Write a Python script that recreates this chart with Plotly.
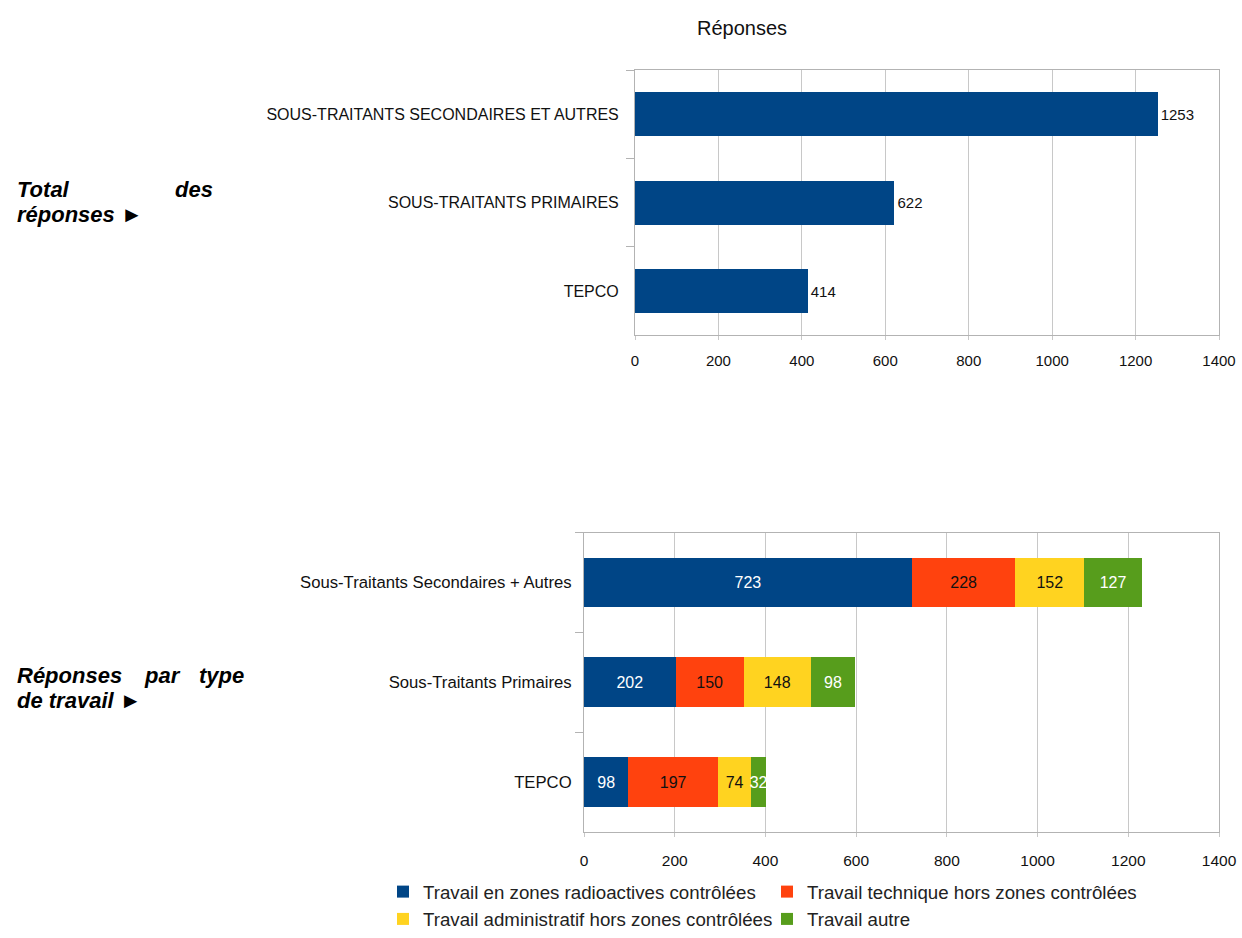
import plotly.graph_objects as go

W, H = 1242, 938
# the captured picture comes out slightly squeezed vertically; compensate placements
Y_STRETCH = 1 / 0.984

# ---- data ----
total_categories = ["SOUS-TRAITANTS SECONDAIRES ET AUTRES", "SOUS-TRAITANTS PRIMAIRES", "TEPCO"]
total_values = [1253, 622, 414]

type_categories = ["Sous-Traitants Secondaires + Autres", "Sous-Traitants Primaires", "TEPCO"]
series_names = [
    "Travail en zones radioactives contrôlées",
    "Travail technique hors zones contrôlées",
    "Travail administratif hors zones contrôlées",
    "Travail autre",
]
radio_values = [723, 202, 98]
technique_values = [228, 150, 197]
admin_values = [152, 148, 74]
autre_values = [127, 98, 32]

x_ticks = [0, 200, 400, 600, 800, 1000, 1200, 1400]

# ---- styles ----
BLUE = "#004586"
ORANGE = "#ff420e"
YELLOW = "#ffd320"
GREEN = "#579d1c"
FONT = "Liberation Sans, Arial, sans-serif"
GRID = "#c8c8c8"
AXIS = "#b3b3b3"


def px(x):
    return x / W


def py(y):
    return max(0.0, 1 - (y * Y_STRETCH) / H)


fig = go.Figure()

fig.add_trace(go.Bar(
    y=total_categories, x=total_values, orientation="h",
    marker=dict(color=BLUE, line=dict(width=0)),
    text=[str(v) for v in total_values], textposition="outside",
    textfont=dict(size=15, color="#111", family=FONT),
    cliponaxis=False, showlegend=False,
    xaxis="x", yaxis="y",
))

series = [
    (series_names[0], radio_values, BLUE, "white", "legend"),
    (series_names[1], technique_values, ORANGE, "#111", "legend2"),
    (series_names[2], admin_values, YELLOW, "#111", "legend"),
    (series_names[3], autre_values, GREEN, "white", "legend2"),
]
for name, vals, col, tcol, leg in series:
    fig.add_trace(go.Bar(
        y=type_categories, x=vals, orientation="h", name=name,
        marker=dict(color=col, line=dict(width=0)),
        text=[str(v) for v in vals], textposition="inside", textangle=0,
        insidetextanchor="middle", constraintext="none",
        textfont=dict(size=16, color=tcol, family=FONT),
        cliponaxis=False,
        xaxis="x2", yaxis="y2", legend=leg,
    ))

axis_common = dict(
    showline=True, linecolor=AXIS, linewidth=1, mirror=True,
    automargin=False, zeroline=False,
)

fig.update_layout(
    width=W, height=H,
    margin=dict(l=0, r=0, t=0, b=0),
    paper_bgcolor="white", plot_bgcolor="white",
    barmode="stack", bargap=0.5,
    font=dict(family=FONT, color="#111"),
    title=dict(text="Réponses", x=px(742), y=py(28), xref="paper", yref="paper",
               xanchor="center", yanchor="middle",
               font=dict(size=20, family=FONT, color="#111")),
    xaxis=dict(domain=[px(635), px(1219)], range=[0, 1400], tickvals=x_ticks,
               showgrid=True, gridcolor=GRID, ticks="outside", ticklen=4, tickcolor=GRID,
               tickfont=dict(size=15), ticklabelstandoff=8, anchor="y", **axis_common),
    yaxis=dict(domain=[py(335), py(70)], autorange="reversed", anchor="x",
               ticks="outside", tickson="boundaries", ticklen=8, tickcolor=AXIS,
               tickfont=dict(size=16), ticklabelstandoff=12, showgrid=False, **axis_common),
    xaxis2=dict(domain=[px(584), px(1219)], range=[0, 1400], tickvals=x_ticks,
                showgrid=True, gridcolor=GRID, ticks="outside", ticklen=4, tickcolor=GRID,
                tickfont=dict(size=15.5), ticklabelstandoff=10, anchor="y2", **axis_common),
    yaxis2=dict(domain=[py(831), py(532)], autorange="reversed", anchor="x2",
                ticks="outside", tickson="boundaries", ticklen=8, tickcolor=AXIS,
                tickfont=dict(size=16.7), ticklabelstandoff=8, showgrid=False, **axis_common),
    legend=dict(x=px(383), y=py(872), xanchor="left", yanchor="top", orientation="v",
                font=dict(size=18.7, family=FONT, color="#222"), bgcolor="rgba(0,0,0,0)",
                traceorder="normal"),
    legend2=dict(x=px(767), y=py(872), xanchor="left", yanchor="top", orientation="v",
                 font=dict(size=18.7, family=FONT, color="#222"), bgcolor="rgba(0,0,0,0)",
                 traceorder="normal"),
)

side_font = dict(size=22, family=FONT, color="black")
side_texts = [
    ("<b><i>Total</i></b>", 15, 189, "left"),
    ("<b><i>des</i></b>", 215, 189, "right"),
    ("<b><i>réponses ►</i></b>", 15, 214, "left"),
    ("<b><i>Réponses</i></b>", 15, 675, "left"),
    ("<b><i>par</i></b>", 162, 675, "center"),
    ("<b><i>type</i></b>", 246, 675, "right"),
    ("<b><i>de travail ►</i></b>", 15, 700, "left"),
]
for txt, x, y, anc in side_texts:
    fig.add_annotation(text=txt, x=px(x), y=py(y), xref="paper", yref="paper",
                       xanchor=anc, yanchor="middle", showarrow=False, font=side_font)

page_css = (
    "var gd=document.querySelector('.plotly-graph-div');"
    "var st='margin:0;padding:0;overflow:hidden;width:1242px;height:938px;';"
    "document.documentElement.style.cssText=st;"
    "document.body.style.cssText=st;"
    "if(gd&&gd.parentElement){gd.parentElement.style.cssText=st;}"
)
fig.write_html("out.html", post_script=page_css, config={"displayModeBar": False})
